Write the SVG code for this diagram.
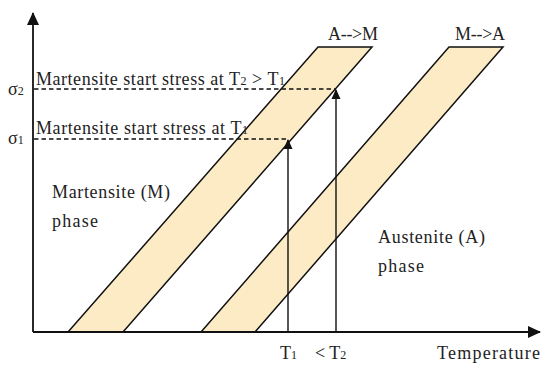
<svg xmlns="http://www.w3.org/2000/svg" width="550" height="374" viewBox="0 0 550 374">
<style>
text{font-family:"Liberation Serif","Times New Roman",serif;fill:#222;font-size:18px}
.sub{font-size:12px}
.band{fill:#FCEBC5;stroke:#111;stroke-width:1.5}
.axis{stroke:#111;stroke-width:1.8;fill:none}
.dash{stroke:#111;stroke-width:1.3;stroke-dasharray:4.5,3;fill:none}
.vl{stroke:#111;stroke-width:1.4;fill:none}
</style>
<defs>
<marker id="ah" markerWidth="10" markerHeight="10" refX="9" refY="5" orient="auto" markerUnits="userSpaceOnUse">
<path d="M0,0.5 L10,5 L0,9.5 Z" fill="#111"/>
</marker>
<marker id="big" markerWidth="13" markerHeight="12" refX="12" refY="6" orient="auto" markerUnits="userSpaceOnUse">
<path d="M0,0 L13,6 L0,12 Z" fill="#111"/>
</marker>
</defs>
<g id="bands">
<polygon id="band-AM" class="band" points="68,332 123,332 372,47 318,47"/>
<polygon id="band-MA" class="band" points="201,332 255,332 503,47 449,47"/>
</g>
<g id="axes">
<line class="axis" x1="33" y1="332" x2="33" y2="13" marker-end="url(#big)"/>
<line class="axis" x1="33" y1="332" x2="540" y2="332" marker-end="url(#big)"/>
</g>
<g id="connectors">
<line class="dash" x1="34" y1="89" x2="336" y2="89"/>
<line class="dash" x1="34" y1="139" x2="289" y2="139"/>
<line class="vl" x1="288" y1="332" x2="288" y2="140" marker-end="url(#ah)"/>
<line class="vl" x1="336" y1="332" x2="336" y2="90" marker-end="url(#ah)"/>
</g>
<g id="labels">
<text x="8" y="95">σ<tspan class="sub">2</tspan></text>
<text x="8" y="144">σ<tspan class="sub">1</tspan></text>
<text x="36" y="85" textLength="249" lengthAdjust="spacing">Martensite start stress at T<tspan class="sub">2</tspan> &gt; T<tspan class="sub">1</tspan></text>
<text x="36" y="134" textLength="212" lengthAdjust="spacing">Martensite start stress at T<tspan class="sub">1</tspan></text>
<text x="328" y="40" textLength="50" lengthAdjust="spacing">A--&gt;M</text>
<text x="455" y="40" textLength="50" lengthAdjust="spacing">M--&gt;A</text>
<text x="52" y="198" textLength="118" lengthAdjust="spacing">Martensite (M)</text>
<text x="52" y="227" textLength="46" lengthAdjust="spacing">phase</text>
<text x="378" y="243" textLength="107" lengthAdjust="spacing">Austenite (A)</text>
<text x="378" y="272" textLength="46" lengthAdjust="spacing">phase</text>
<text x="280" y="359">T<tspan class="sub">1</tspan></text>
<text x="315" y="359">&lt; T<tspan class="sub">2</tspan></text>
<text x="437" y="359" textLength="103" lengthAdjust="spacing">Temperature</text>
</g>
</svg>
